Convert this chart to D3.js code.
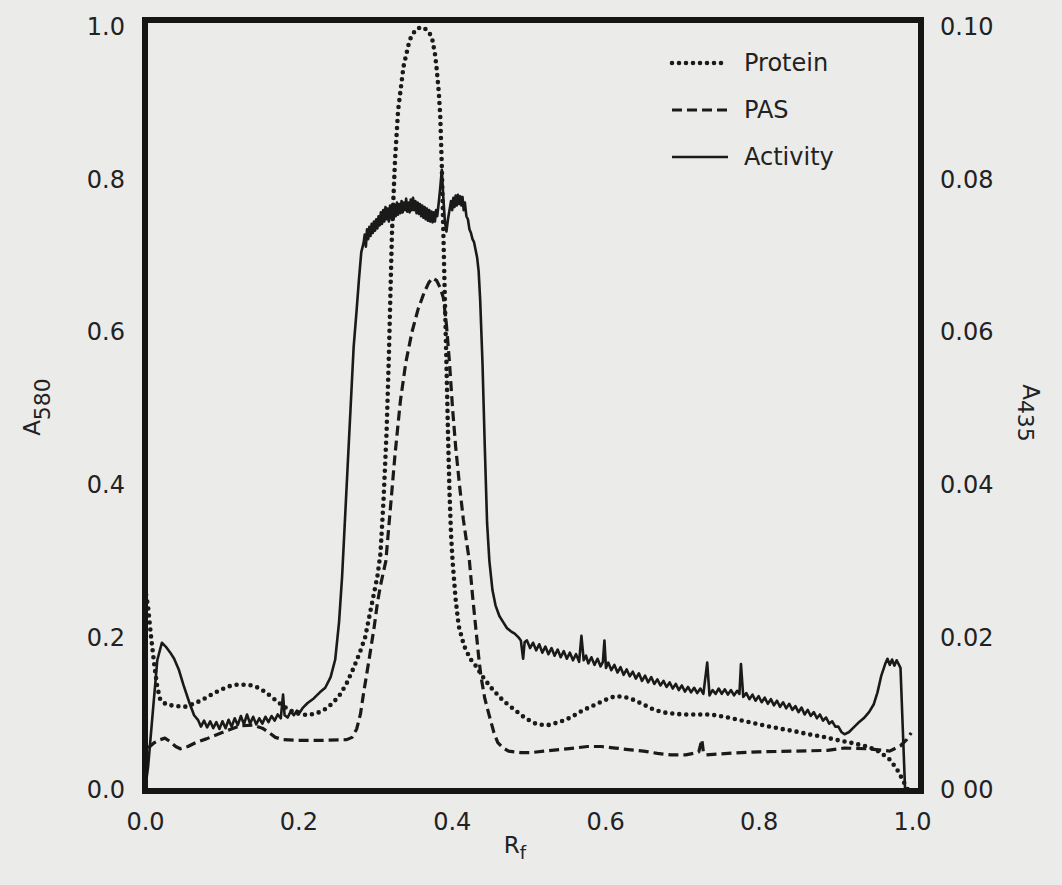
<!DOCTYPE html>
<html>
<head>
<meta charset="utf-8">
<script src="https://cdn.jsdelivr.net/npm/d3@7"></script>
<style>
  html, body { margin: 0; padding: 0; background: #ebebea; }
  svg { display: block; }
  text { font-family: "DejaVu Sans", sans-serif; fill: #222; }
</style>
</head>
<body>
<svg id="chart" width="1062" height="885"></svg>
<script>
// ---- data (R_f, value) ----
const xTicks = [0, 0.2, 0.4, 0.6, 0.8, 1.0];
const xTickLabels = ["0.0", "0.2", "0.4", "0.6", "0.8", "1.0"];
const leftTicks = [0, 0.2, 0.4, 0.6, 0.8, 1.0];
const leftTickLabels = ["0.0", "0.2", "0.4", "0.6", "0.8", "1.0"];
const rightTicks = [0, 0.02, 0.04, 0.06, 0.08, 0.10];
const rightTickLabels = ["0 00", "0.02", "0.04", "0.06", "0.08", "0.10"];
const seriesNames = ["Protein", "PAS", "Activity"];

// Protein, A580 (left axis)
const protein = [
  [0.000,0.265],[0.004,0.240],[0.008,0.200],[0.012,0.165],[0.016,0.135],[0.020,0.118],
  [0.028,0.112],[0.040,0.110],[0.052,0.109],[0.066,0.114],[0.078,0.120],[0.090,0.127],
  [0.100,0.132],[0.110,0.136],[0.120,0.138],[0.131,0.138],[0.140,0.137],[0.150,0.133],
  [0.160,0.126],[0.170,0.118],[0.180,0.110],[0.190,0.104],[0.200,0.100],[0.212,0.098],
  [0.225,0.101],[0.235,0.106],[0.245,0.114],[0.255,0.126],[0.263,0.140],[0.272,0.160],
  [0.280,0.180],[0.287,0.200],[0.294,0.235],[0.299,0.260],[0.303,0.280],[0.307,0.310],
  [0.311,0.380],[0.315,0.470],[0.318,0.570],[0.320,0.651],[0.322,0.730],[0.326,0.826],
  [0.330,0.891],[0.337,0.948],[0.345,0.983],[0.353,0.997],[0.361,1.000],[0.368,0.996],
  [0.374,0.987],[0.378,0.965],[0.380,0.948],[0.383,0.915],[0.385,0.882],[0.387,0.817],
  [0.389,0.730],[0.391,0.642],[0.393,0.560],[0.395,0.470],[0.397,0.390],[0.399,0.335],
  [0.401,0.300],[0.405,0.250],[0.409,0.215],[0.416,0.189],[0.424,0.172],[0.431,0.163],
  [0.442,0.146],[0.453,0.132],[0.467,0.117],[0.482,0.105],[0.496,0.094],[0.511,0.086],
  [0.525,0.085],[0.540,0.089],[0.555,0.095],[0.570,0.104],[0.585,0.111],[0.600,0.118],
  [0.613,0.123],[0.625,0.122],[0.635,0.119],[0.650,0.112],[0.664,0.105],[0.680,0.101],
  [0.701,0.099],[0.720,0.099],[0.737,0.099],[0.755,0.096],[0.774,0.092],[0.792,0.088],
  [0.810,0.084],[0.830,0.080],[0.847,0.077],[0.865,0.073],[0.883,0.070],[0.900,0.066],
  [0.920,0.062],[0.942,0.057],[0.958,0.050],[0.971,0.040],[0.980,0.028],[0.987,0.015],
  [0.992,0.005],[0.995,0.000]
];

// PAS, A435 (right axis)
const pas = [
  [0.004,0.0055],[0.012,0.0062],[0.020,0.0066],[0.026,0.0068],[0.032,0.0064],[0.040,0.0057],
  [0.046,0.0054],[0.056,0.0057],[0.066,0.0062],[0.080,0.0067],[0.095,0.0073],[0.110,0.0079],
  [0.124,0.0084],[0.140,0.0085],[0.153,0.0081],[0.162,0.0075],[0.170,0.0069],[0.180,0.0066],
  [0.200,0.0065],[0.230,0.0065],[0.263,0.0066],[0.270,0.0069],[0.276,0.0080],[0.281,0.0100],
  [0.285,0.0127],[0.292,0.0170],[0.299,0.0215],[0.303,0.0245],[0.307,0.0268],[0.314,0.0300],
  [0.320,0.0370],[0.326,0.0440],[0.333,0.0510],[0.340,0.0560],[0.348,0.0600],[0.356,0.0630],
  [0.364,0.0652],[0.370,0.0665],[0.375,0.0671],[0.380,0.0668],[0.385,0.0658],[0.389,0.0645],
  [0.393,0.0610],[0.397,0.0560],[0.401,0.0500],[0.405,0.0450],[0.410,0.0400],[0.415,0.0355],
  [0.420,0.0320],[0.423,0.0300],[0.427,0.0255],[0.431,0.0215],[0.435,0.0175],[0.438,0.0149],
  [0.443,0.0120],[0.449,0.0097],[0.455,0.0075],[0.460,0.0062],[0.467,0.0055],[0.474,0.0051],
  [0.490,0.0049],[0.504,0.0049],[0.520,0.0051],[0.540,0.0053],[0.560,0.0055],[0.577,0.0057],
  [0.595,0.0057],[0.613,0.0055],[0.630,0.0053],[0.650,0.0051],[0.668,0.0048],[0.686,0.0046],
  [0.705,0.0046],[0.715,0.0048],[0.722,0.0050],[0.726,0.0066],[0.728,0.0050],[0.732,0.0046],
  [0.760,0.0048],[0.800,0.0050],[0.850,0.0051],[0.890,0.0052],[0.912,0.0055],[0.942,0.0054],
  [0.971,0.0051],[0.985,0.0058],[0.993,0.0066],[0.999,0.0075]
];

// Activity, A580 (left axis) — noisy densitometer trace
const activity = [
  [0.000,0.000],[0.004,0.030],[0.010,0.100],[0.016,0.170],[0.022,0.193],[0.027,0.188],
  [0.033,0.180],[0.038,0.172],[0.044,0.158],[0.050,0.138],[0.058,0.114],[0.064,0.098],
  [0.069,0.092],[0.073,0.083],[0.077,0.091],[0.081,0.082],[0.085,0.090],[0.089,0.081],
  [0.093,0.089],[0.097,0.080],[0.101,0.090],[0.105,0.081],[0.109,0.092],[0.113,0.083],
  [0.117,0.094],[0.121,0.085],[0.125,0.097],[0.129,0.086],[0.133,0.099],[0.137,0.087],
  [0.141,0.096],[0.145,0.086],[0.149,0.094],[0.153,0.087],[0.157,0.096],[0.161,0.089],
  [0.165,0.097],[0.169,0.091],[0.173,0.099],[0.177,0.094],[0.180,0.125],[0.182,0.098],
  [0.186,0.095],[0.190,0.103],[0.194,0.098],[0.198,0.104],[0.202,0.102],[0.206,0.108],
  [0.212,0.114],[0.220,0.120],[0.228,0.128],[0.235,0.134],[0.242,0.148],[0.248,0.171],
  [0.253,0.220],[0.257,0.280],[0.260,0.340],[0.264,0.420],[0.268,0.500],[0.272,0.580],
  [0.276,0.630],[0.279,0.670],[0.282,0.705],[0.285,0.717],[0.2865,0.728],[0.288,0.712],
  [0.2895,0.735],[0.291,0.722],[0.2925,0.738],[0.294,0.726],[0.2955,0.742],[0.297,0.730],
  [0.2985,0.745],[0.300,0.733],[0.3015,0.748],[0.303,0.736],[0.3045,0.752],[0.306,0.740],
  [0.3075,0.757],[0.309,0.742],[0.3105,0.760],[0.312,0.745],[0.3135,0.764],[0.315,0.748],
  [0.3165,0.762],[0.318,0.745],[0.3195,0.766],[0.321,0.750],[0.3225,0.764],[0.324,0.748],
  [0.3255,0.767],[0.327,0.752],[0.3285,0.770],[0.330,0.754],[0.3315,0.768],[0.333,0.756],
  [0.3345,0.772],[0.336,0.757],[0.3375,0.770],[0.339,0.760],[0.3405,0.775],[0.342,0.758],
  [0.3435,0.770],[0.345,0.757],[0.3465,0.774],[0.348,0.760],[0.3495,0.776],[0.351,0.760],
  [0.3525,0.772],[0.354,0.756],[0.3555,0.770],[0.357,0.755],[0.3585,0.768],[0.360,0.752],
  [0.3615,0.766],[0.363,0.750],[0.3645,0.764],[0.366,0.748],[0.3675,0.762],[0.369,0.746],
  [0.3705,0.760],[0.372,0.745],[0.3735,0.758],[0.375,0.744],[0.3765,0.757],[0.378,0.745],
  [0.3795,0.760],[0.381,0.752],[0.383,0.770],[0.385,0.790],[0.387,0.813],[0.389,0.775],
  [0.391,0.745],[0.393,0.732],[0.395,0.748],[0.397,0.760],[0.399,0.772],[0.4005,0.760],
  [0.402,0.776],[0.4035,0.764],[0.405,0.779],[0.4065,0.766],[0.408,0.780],[0.4095,0.768],
  [0.411,0.778],[0.4125,0.766],[0.414,0.777],[0.4155,0.760],[0.417,0.770],[0.419,0.752],
  [0.421,0.748],[0.423,0.735],[0.425,0.730],[0.427,0.722],[0.429,0.718],[0.431,0.708],
  [0.433,0.698],[0.435,0.680],[0.437,0.642],[0.440,0.560],[0.443,0.450],[0.446,0.350],
  [0.449,0.300],[0.453,0.262],[0.457,0.242],[0.462,0.228],[0.467,0.220],[0.472,0.212],
  [0.477,0.208],[0.482,0.205],[0.487,0.200],[0.490,0.196],[0.493,0.172],[0.495,0.194],
  [0.498,0.196],[0.502,0.186],[0.506,0.193],[0.510,0.183],[0.514,0.191],[0.518,0.180],
  [0.522,0.188],[0.526,0.178],[0.530,0.186],[0.534,0.176],[0.538,0.184],[0.542,0.174],
  [0.546,0.182],[0.550,0.172],[0.554,0.180],[0.558,0.170],[0.562,0.178],[0.566,0.168],
  [0.569,0.202],[0.572,0.170],[0.575,0.176],[0.578,0.166],[0.582,0.174],[0.586,0.164],
  [0.590,0.172],[0.594,0.162],[0.597,0.168],[0.599,0.196],[0.601,0.160],[0.604,0.167],
  [0.608,0.157],[0.612,0.164],[0.616,0.154],[0.620,0.161],[0.624,0.151],[0.628,0.158],
  [0.632,0.149],[0.636,0.155],[0.640,0.146],[0.644,0.153],[0.648,0.143],[0.652,0.150],
  [0.656,0.141],[0.660,0.148],[0.664,0.139],[0.668,0.145],[0.672,0.137],[0.676,0.143],
  [0.680,0.135],[0.684,0.141],[0.688,0.133],[0.692,0.139],[0.696,0.131],[0.700,0.137],
  [0.704,0.129],[0.708,0.135],[0.712,0.128],[0.716,0.134],[0.720,0.127],[0.724,0.133],
  [0.728,0.126],[0.733,0.167],[0.736,0.124],[0.740,0.131],[0.744,0.126],[0.748,0.133],
  [0.752,0.126],[0.756,0.132],[0.760,0.125],[0.764,0.131],[0.768,0.124],[0.772,0.130],
  [0.775,0.126],[0.777,0.165],[0.780,0.122],[0.784,0.127],[0.788,0.119],[0.792,0.125],
  [0.796,0.117],[0.800,0.123],[0.804,0.115],[0.808,0.121],[0.812,0.113],[0.816,0.119],
  [0.820,0.111],[0.824,0.117],[0.828,0.109],[0.832,0.115],[0.836,0.107],[0.840,0.113],
  [0.844,0.105],[0.848,0.110],[0.852,0.102],[0.856,0.108],[0.860,0.099],[0.864,0.105],
  [0.868,0.097],[0.872,0.102],[0.876,0.094],[0.880,0.099],[0.884,0.091],[0.888,0.095],
  [0.892,0.087],[0.896,0.090],[0.900,0.083],[0.904,0.083],[0.908,0.076],[0.912,0.073],
  [0.918,0.076],[0.924,0.082],[0.930,0.088],[0.937,0.094],[0.944,0.102],[0.950,0.112],
  [0.955,0.128],[0.960,0.150],[0.965,0.165],[0.968,0.172],[0.971,0.164],[0.974,0.171],
  [0.977,0.163],[0.980,0.170],[0.985,0.160],[0.988,0.080],[0.991,0.000]
];

// ---- layout ----
const frame = { left: 145, right: 921, top: 20, bottom: 791 };
const svg = d3.select("#chart");

const x = d3.scaleLinear().domain([0, 1]).range([145, 912]);
const y = d3.scaleLinear().domain([0, 1]).range([790, 27]);
const y2 = d3.scaleLinear().domain([0, 0.1]).range([790, 27]);

svg.append("defs").append("clipPath").attr("id", "clip")
  .append("rect")
  .attr("x", frame.left).attr("y", frame.top)
  .attr("width", frame.right - frame.left).attr("height", frame.bottom - frame.top);

const plot = svg.append("g").attr("clip-path", "url(#clip)");

const lineL = d3.line().x(d => x(d[0])).y(d => y(d[1]));
const lineR = d3.line().x(d => x(d[0])).y(d => y2(d[1]));

const styles = {
  Protein: { width: 4.6, dash: "0,7", cap: "round" },
  PAS: { width: 3.2, dash: "10,5", cap: "butt" },
  Activity: { width: 2.6, dash: null, cap: "butt" }
};

function styleLine(sel, name) {
  const s = styles[name];
  sel.attr("fill", "none").attr("stroke", "#1a1a1a")
    .attr("stroke-width", s.width)
    .attr("stroke-linecap", s.cap)
    .attr("stroke-linejoin", "round");
  if (s.dash) sel.attr("stroke-dasharray", s.dash);
  return sel;
}

plot.append("path").datum(activity).attr("d", lineL).call(styleLine, "Activity");
plot.append("path").datum(pas).attr("d", lineR).call(styleLine, "PAS");
plot.append("path").datum(protein).attr("d", lineL).call(styleLine, "Protein");

// frame
svg.append("rect")
  .attr("x", frame.left).attr("y", frame.top)
  .attr("width", frame.right - frame.left).attr("height", frame.bottom - frame.top)
  .attr("fill", "none").attr("stroke", "#151515").attr("stroke-width", 6);

// axes
const fontSize = 24;
const xAxis = d3.axisBottom(x).tickValues(xTicks).tickSize(0).tickPadding(22)
  .tickFormat((d, i) => xTickLabels[i]);
const gx = svg.append("g").attr("transform", `translate(0,${frame.bottom})`).call(xAxis);

const yAxis = d3.axisLeft(y).tickValues(leftTicks).tickSize(0).tickPadding(20)
  .tickFormat((d, i) => leftTickLabels[i]);
const gy = svg.append("g").attr("transform", `translate(${frame.left},0)`).call(yAxis);

const y2Axis = d3.axisRight(y2).tickValues(rightTicks).tickSize(0).tickPadding(19)
  .tickFormat((d, i) => rightTickLabels[i]);
const gy2 = svg.append("g").attr("transform", `translate(${frame.right},0)`).call(y2Axis);

[gx, gy, gy2].forEach(g => {
  g.select(".domain").remove();
  g.selectAll("text").attr("font-size", fontSize).attr("font-family", "DejaVu Sans, sans-serif").attr("fill", "#222");
});

// axis titles
const tl = svg.append("text").attr("transform", "translate(40,407) rotate(-90)")
  .attr("text-anchor", "middle").attr("font-size", 23);
tl.append("tspan").text("A");
tl.append("tspan").attr("dy", 10).attr("font-size", 22).text("580");

const tr = svg.append("text").attr("transform", "translate(1023,413) rotate(90)")
  .attr("text-anchor", "middle").attr("font-size", 23);
tr.append("tspan").text("A");
tr.append("tspan").attr("dy", 5).attr("font-size", 22).text("435");

const tx = svg.append("text").attr("x", 515).attr("y", 853)
  .attr("text-anchor", "middle").attr("font-size", 23);
tx.append("tspan").text("R");
tx.append("tspan").attr("dy", 6).attr("font-size", 18).text("f");

// legend
const legend = svg.append("g");
const legendY = [63, 110, 157];
seriesNames.forEach((name, i) => {
  legend.append("path")
    .attr("d", d3.line()([[672, legendY[i]], [728, legendY[i]]]))
    .call(styleLine, name);
  legend.append("text").attr("x", 744).attr("y", legendY[i])
    .attr("dy", "0.35em").attr("font-size", fontSize).text(name);
});
</script>
</body>
</html>
